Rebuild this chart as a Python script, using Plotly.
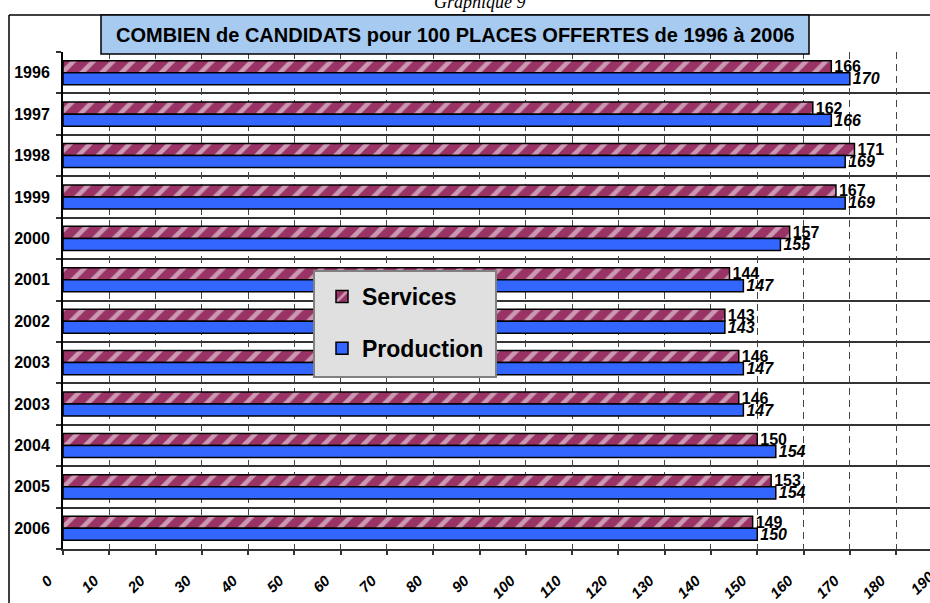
import plotly.graph_objects as go

years = ["1996", "1997", "1998", "1999", "2000", "2001", "2002", "2003", "2003", "2004", "2005", "2006"]
services = [166, 162, 171, 167, 157, 144, 143, 146, 146, 150, 153, 149]
production = [170, 166, 169, 169, 155, 147, 143, 147, 147, 154, 154, 150]
x_ticks = list(range(0, 200, 10))

W, H = 930, 603
L, R, T, B = 63, 0, 52, 54
pw, ph = W - L - R, H - T - B


def px(x):
    return (x - L) / pw


def py(y):
    return (H - B - y) / ph


pos = list(range(len(years)))
xmax = 190 * (W - L) / (942.4 - L)
step = (942.4 - L) / 19  # pixels per 10 units

fig = go.Figure()
fig.add_trace(go.Bar(
    name="Services", y=pos, x=services, orientation="h",
    marker=dict(color="#993366", line=dict(color="black", width=1.5),
                pattern=dict(shape="/", fgcolor="white", bgcolor="#993366", size=14, solidity=0.33)),
    text=[str(v) for v in services], textposition="outside", cliponaxis=False, constraintext="none",
    textfont=dict(family="Arial, Liberation Sans", size=16, color="black", weight="bold"),
    legendgroup="s",
))
fig.add_trace(go.Bar(
    name="Production", y=pos, x=production, orientation="h",
    marker=dict(color="#3366FF", line=dict(color="black", width=1.5)),
    text=[str(v) for v in production], textposition="outside", cliponaxis=False, constraintext="none",
    textfont=dict(family="Arial, Liberation Sans", size=16, color="black", weight="bold", style="italic"),
    legendgroup="p",
))

fig.update_layout(
    width=W, height=H,
    margin=dict(l=L, r=R, t=T, b=B, pad=0),
    paper_bgcolor="white", plot_bgcolor="white",
    barmode="group", bargap=0.42, bargroupgap=0,
    font=dict(family="Arial, Liberation Sans", color="black"),
    showlegend=True,
    legend=dict(
        x=px(322), y=py(275), xanchor="left", yanchor="top",
        bgcolor="rgba(0,0,0,0)", borderwidth=0,
        font=dict(size=23, weight="bold", color="black"),
        traceorder="grouped", tracegroupgap=19,
    ),
    xaxis=dict(
        range=[0, xmax], tickmode="array", tickvals=x_ticks, ticktext=[str(v) for v in x_ticks],
        tickangle=-45, tickfont=dict(size=15, weight="bold", style="italic", color="black"),
        showgrid=True, gridcolor="#444444", gridwidth=1, griddash="7px,5px",
        showline=True, linecolor="#333333", linewidth=2,
        ticks="outside", ticklen=4, tickcolor="#333333", tickwidth=1.5,
        zeroline=False, ticklabelstandoff=11, ticklabelshift=-15,
    ),
    yaxis=dict(
        range=[len(years) - 0.5, -0.5], tickmode="array", tickvals=pos, ticktext=years,
        tickfont=dict(size=16, weight="bold", color="black"),
        showgrid=False, ticks="", zeroline=False,
        showline=True, linecolor="black", linewidth=2,
        ticklabelstandoff=8,
        minor=dict(tickmode="array", tickvals=[i - 0.5 for i in range(len(years) + 1)],
                   showgrid=True, gridcolor="#333333", gridwidth=1.5,
                   ticks="outside", ticklen=5, tickcolor="#333333", tickwidth=1.5),
    ),
    shapes=[
        dict(type="line", xref="paper", yref="paper", x0=px(9), x1=1.0, y0=py(15), y1=py(15),
             line=dict(color="black", width=1.5)),
        dict(type="line", xref="paper", yref="paper", x0=px(9), x1=px(9), y0=py(15), y1=py(603),
             line=dict(color="black", width=1.5)),
        dict(type="rect", xref="paper", yref="paper", x0=px(101), x1=px(809), y0=py(54), y1=py(15),
             fillcolor="#A6CAF0", line=dict(color="black", width=1.5), layer="above"),
        dict(type="rect", xref="paper", yref="paper", x0=px(314), x1=px(496), y0=py(377), y1=py(271),
             fillcolor="#E0E0E0", line=dict(color="#808080", width=2), layer="above"),
    ],
    annotations=[
        dict(text="COMBIEN de CANDIDATS pour 100 PLACES OFFERTES de 1996 à 2006",
             xref="paper", yref="paper", x=px(455), y=py(34.5), xanchor="center", yanchor="middle",
             showarrow=False, font=dict(size=20, weight="bold", color="black")),
        dict(text="Graphique 9", xref="paper", yref="paper", x=px(480), y=py(13),
             xanchor="center", yanchor="bottom", showarrow=False, borderpad=0,
             font=dict(family="Liberation Serif, Times New Roman", size=18, style="italic", color="black")),
        dict(text=str(x_ticks[-1]), xref="paper", yref="paper", x=px(737 + 4 * step), y=py(582),
             xanchor="center", yanchor="middle", showarrow=False, textangle=-45,
             font=dict(size=15, weight="bold", style="italic", color="black")),
    ],
)

fig.write_html("out.html", config={"displayModeBar": False},
               post_script="document.body.style.margin='0';")
